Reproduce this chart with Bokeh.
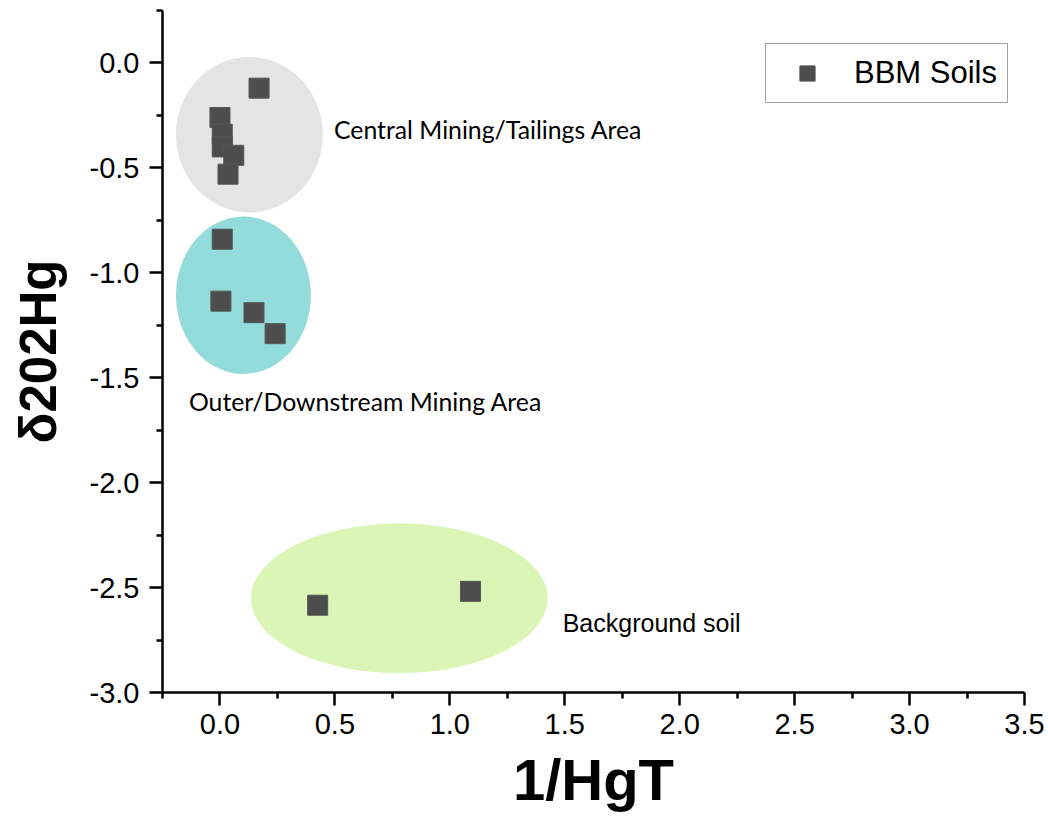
from bokeh.plotting import figure
from bokeh.models import Range1d, FixedTicker, PrintfTickFormatter, Label, Legend, LegendItem
from bokeh.embed import file_html
from bokeh.resources import INLINE

# ---- data ----
inv_hgt = [0.17, 0.00, 0.01, 0.01, 0.06, 0.035, 0.01, 0.004, 0.148, 0.24, 0.425, 1.09]
d202hg = [-0.12, -0.26, -0.34, -0.40, -0.44, -0.53, -0.84, -1.135, -1.19, -1.29, -2.584, -2.518]

region_names = ["Central Mining/Tailings Area", "Outer/Downstream Mining Area", "Background soil"]
region_cx = [0.128, 0.102, 0.78]
region_cy = [-0.342, -1.107, -2.551]
region_w = [0.639, 0.587, 1.291]
region_h = [0.741, 0.75, 0.713]
region_colors = ["#e4e4e4", "#94dbdb", "#daf5b6"]

x_major = [0.0, 0.5, 1.0, 1.5, 2.0, 2.5, 3.0, 3.5]
x_minor = [-0.25, 0.25, 0.75, 1.25, 1.75, 2.25, 2.75, 3.25]
y_major = [-3.0, -2.5, -2.0, -1.5, -1.0, -0.5, 0.0]
y_minor = [-2.75, -2.25, -1.75, -1.25, -0.75, -0.25, 0.25]

W, H = 1048, 817
p = figure(width=W, height=H, output_backend="svg", toolbar_location=None,
           x_range=Range1d(-0.25, 3.5), y_range=Range1d(-3.0, 0.25),
           min_border_left=162, min_border_right=24, min_border_top=10, min_border_bottom=125)
p.outline_line_color = None
p.grid.visible = False
p.background_fill_color = "white"
p.border_fill_color = "white"

p.ellipse(x=region_cx, y=region_cy, width=region_w, height=region_h,
          fill_color=region_colors, line_color=None)

sc = p.scatter(x=inv_hgt, y=d202hg, marker="square", size=20,
               fill_color="#4d4d4d", line_color="#555555", line_width=1)

# axes
for ax in [p.xaxis[0], p.yaxis[0]]:
    ax.axis_line_width = 2.5
    ax.axis_line_color = "black"
    ax.major_tick_line_width = 2.5
    ax.minor_tick_line_width = 2.5
    ax.major_tick_out = 13
    ax.major_tick_in = 0
    ax.minor_tick_out = 6
    ax.minor_tick_in = 0
    ax.major_label_text_font = "Liberation Sans"
    ax.major_label_text_font_size = "29px"
    ax.major_label_text_color = "black"
    ax.axis_label_text_font = "Liberation Sans"
    ax.axis_label_text_font_style = "bold"
    ax.axis_label_text_color = "black"
    ax.formatter = PrintfTickFormatter(format="%.1f")

p.xaxis[0].ticker = FixedTicker(ticks=x_major, minor_ticks=x_minor)
p.yaxis[0].ticker = FixedTicker(ticks=y_major, minor_ticks=y_minor)
p.xaxis[0].major_label_standoff = 8
p.yaxis[0].major_label_standoff = 10
p.xaxis[0].axis_label = "1/HgT"
p.xaxis[0].axis_label_text_font_size = "58px"
p.xaxis[0].axis_label_standoff = 10
p.yaxis[0].axis_label = "δ202Hg"
p.yaxis[0].axis_label_text_font_size = "51px"
p.yaxis[0].axis_label_standoff = 20

# region labels
p.add_layout(Label(x=0.496, y=-0.318, text=region_names[0], text_font="Lato",
                   text_font_size="24.8px", text_baseline="middle", text_color="black"))
p.add_layout(Label(x=-0.135, y=-1.615, text=region_names[1], text_font="Lato",
                   text_font_size="24.8px", text_baseline="middle", text_color="black"))
p.add_layout(Label(x=1.491, y=-2.67, text=region_names[2], text_font="Liberation Sans",
                   text_font_size="25px", text_baseline="middle", text_color="black"))

legend = Legend(items=[LegendItem(label="BBM Soils", renderers=[sc])],
                location=(603, 589), margin=0, padding=10,
                label_text_font="Liberation Sans", label_text_font_size="31px",
                label_text_color="black",
                label_standoff=16, glyph_width=62, glyph_height=38,
                border_line_color="#444444", border_line_width=1.5,
                background_fill_alpha=1.0)
p.add_layout(legend)

open("out.html", "w").write(file_html(p, INLINE))
